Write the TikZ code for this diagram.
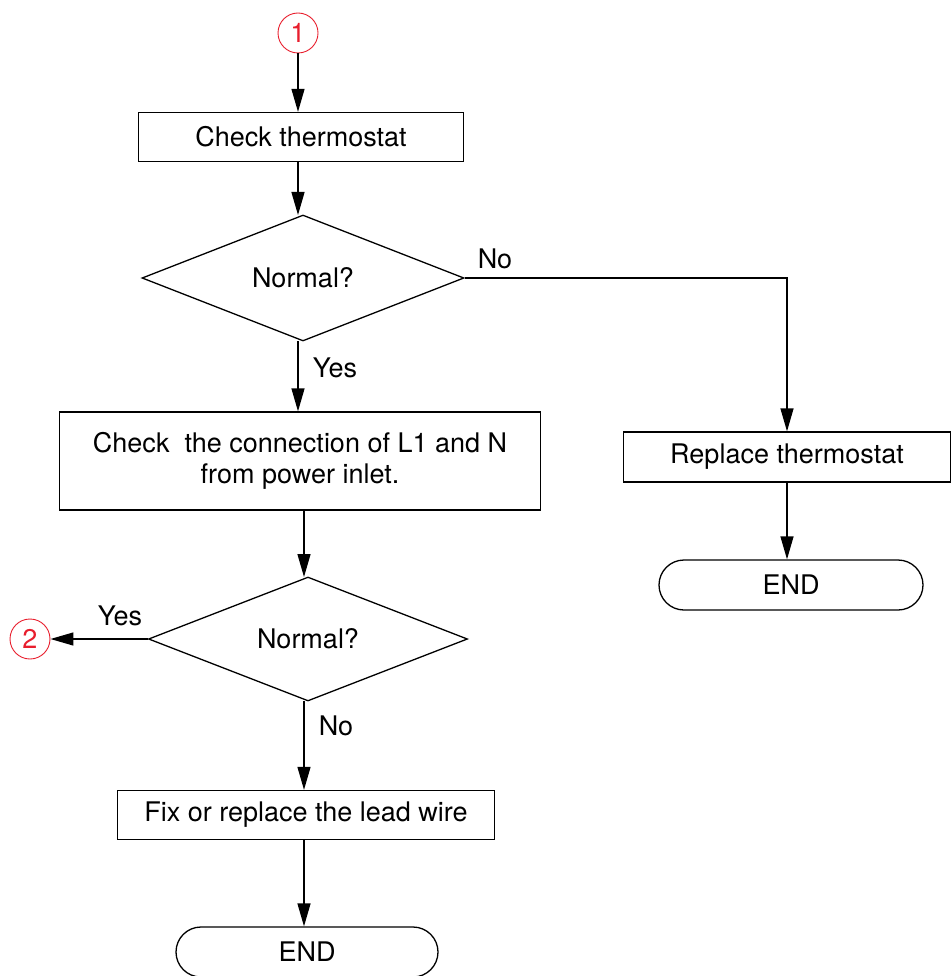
\documentclass[tikz,border=0pt]{standalone}
\usepackage{fontspec}
\setmainfont{TeX Gyre Heros}
\usetikzlibrary{arrows.meta,shapes.geometric}
\definecolor{cred}{RGB}{232,30,45}
\tikzset{
  every node/.style={font=\fontsize{27}{31}\selectfont},
  procbox/.style={draw,line width=1.3pt,rectangle,inner sep=0pt},
  decide/.style={draw,line width=1.3pt,diamond,inner sep=0pt,minimum width=322pt,minimum height=126pt,shape aspect=2.55},
  term/.style={draw,line width=1.3pt,rectangle,rounded corners=25pt,minimum height=50pt,inner sep=0pt},
  conn/.style={draw=cred,circle,line width=0.9pt,minimum size=40pt,inner sep=0pt,text=cred,font=\fontsize{27}{31}\selectfont},
  flow/.style={line width=1.3pt,-{Triangle[length=23pt,width=13pt]}},
  lbl/.style={inner sep=0pt}
}
\begin{document}
\begin{tikzpicture}[x=1pt,y=-1pt]
\useasboundingbox (0,0) rectangle (950,976);
\node[conn] (c1) at (298,33) {1};
\node[procbox,minimum width=325pt,minimum height=49pt] (b1) at (301,137) {Check thermostat};
\node[decide] (d1) at (303,278) {Normal?};
\coordinate (d1t) at (298,215);
\coordinate (d1b) at (298,341);
\node[procbox,minimum width=481pt,minimum height=98pt,align=center] (b2) at (300,461) {Check\ \ the connection of L1 and N\\from power inlet.};
\node[decide,minimum width=319pt,minimum height=124pt] (d2) at (308,639) {Normal?};
\coordinate (d2t) at (304,577);
\coordinate (d2b) at (304,701);
\node[procbox,minimum width=377pt,minimum height=49pt] (b3) at (306,815) {Fix or replace the lead wire};
\node[term,minimum width=262pt] (e1) at (307,952) {END};
\node[procbox,minimum width=327pt,minimum height=50pt] (r1) at (787,457) {Replace thermostat};
\node[term,minimum width=264pt] (e2) at (791,585) {END};
\node[conn] (c2) at (30,639) {2};

\draw[flow] (c1.south |- c1.south) -- (c1.south |- b1.north);
\draw[flow] (d1t |- b1.south) -- (d1t);
\draw[flow] (d1b) -- (d1b |- b2.north);
\draw[flow] (d2t |- b2.south) -- (d2t);
\draw[flow] (d2b) -- (d2b |- b3.north);
\draw[flow] (d2b |- b3.south) -- (d2b |- e1.north);
\draw[flow] (d1.east) -| (r1.north);
\draw[flow] (r1.south) -- (r1.south |- e2.north);
\draw[flow] (d2.west) -- (c2.east);

\node[lbl] (n1) at (495,259) {No};
\node[lbl] (y1) at (335,368) {Yes};
\node[lbl] (y2) at (120,616) {Yes};
\node[lbl] (n2) at (336,726) {No};
\end{tikzpicture}
\end{document}
